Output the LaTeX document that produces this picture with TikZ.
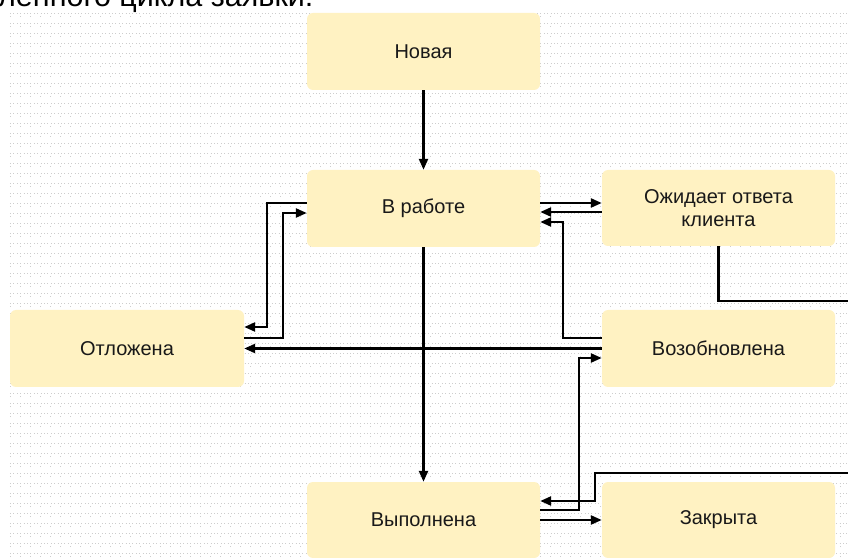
\documentclass[tikz,border=0pt]{standalone}
\usepackage{fontspec}
\setmainfont{Liberation Sans}
\usetikzlibrary{arrows.meta,calc}
\definecolor{boxfill}{RGB}{255,242,194}
\definecolor{txt}{RGB}{25,25,25}
\definecolor{gridc}{RGB}{205,205,205}
\tikzset{
  state/.style={fill=boxfill, rounded corners=6pt, minimum width=233pt, minimum height=77pt,
    inner sep=2pt, align=center, text=txt, font=\fontsize{20}{23.5}\selectfont},
  conn/.style={line width=2.4pt, black},
  arr/.style={conn, -{Triangle[length=11pt,width=9pt]}},
}
\begin{document}
\begin{tikzpicture}[x=1pt,y=1pt]
\useasboundingbox (0,0) rectangle (848,557);
\clip (0,0) rectangle (848,557);
\fill[white] (0,0) rectangle (848,557);
% dotted background grid
\foreach \yy in {4,14,...,544} {
  \draw[gridc, line width=0.7pt, dash pattern=on 0.8pt off 2.6pt] (10,\yy) -- (848,\yy);
}
\foreach \xx in {10,20,...,848} {
  \draw[gridc, line width=0.7pt, dash pattern=on 0.8pt off 9.2pt] (\xx,0) -- (\xx,544);
}
% cut-off title
\node[anchor=base west, inner sep=0pt, font=\fontsize{30.5}{34}\selectfont, text=black] (title) at (-2,550) {ленного цикла заявки:};
% states
\node[state] (nova) at (423.5,505.5) {Новая};
\node[state] (rab)  at (423.5,348.5) {В работе};
\node[state, minimum height=76pt] (ozh)  at (718.5,349) {Ожидает ответа\\клиента};
\node[state, minimum width=234pt] (otl)  at (127,208.5) {Отложена};
\node[state] (voz)  at (718.5,208.5) {Возобновлена};
\node[state, minimum height=76pt] (vyp)  at (423.5,37) {Выполнена};
\node[state, minimum height=76pt] (zak)  at (718.5,37) {Закрыта};
% off-canvas ends
\coordinate (offA) at (852,256);
\coordinate (offB) at (852,84);
% connectors
\draw[arr] (nova.south) -- (rab.north);
\draw[arr] (rab.south) -- (vyp.north);
\draw[arr] ([yshift=5.5pt]rab.west) -- ++(-40,0) |- ([yshift=21.5pt]otl.east);
\draw[arr] ([yshift=10.5pt]otl.east) -- ++(39,0) |- ([yshift=-4.5pt]rab.west);
\draw[arr] (voz.west) -- (otl.east);
\draw[arr] ([yshift=5.5pt]rab.east) -- ([yshift=5.5pt]rab.east -| ozh.west);
\draw[arr] ([yshift=-4pt]ozh.west) -- ([yshift=-4pt]ozh.west -| rab.east);
\draw[arr] ([yshift=10.5pt]voz.west) -- ++(-39,0) |- ([yshift=-13.5pt]rab.east);
\draw[conn] (ozh.south) |- (offA);
\draw[arr] ([yshift=10pt]vyp.east) -- ++(39,0) |- ([yshift=-9.5pt]voz.west);
\draw[arr] (offB) -| ([xshift=55pt,yshift=19pt]vyp.east) -- ([yshift=19pt]vyp.east);
\draw[arr] (vyp.east) -- (zak.west);
\end{tikzpicture}
\end{document}
